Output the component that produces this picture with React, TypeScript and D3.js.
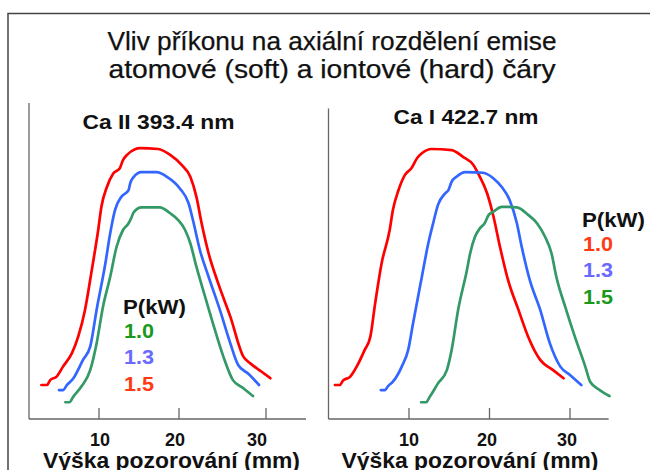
import React from "react";
import * as d3 from "d3";

// ---------- data ----------
const titleLines = [
  "Vliv příkonu na axiální rozdělení emise",
  "atomové (soft) a iontové (hard) čáry",
];
const xTicks = [10, 20, 30];
const xAxisTitle = "Výška pozorování (mm)";
const powers = ["1.0", "1.3", "1.5"];

// Ca II 393.4 nm  [height mm, relative intensity]
const caII_10: [number, number][] = [[5.8,6.2],[6.3,6.2],[6.8,8.3],[7.8,12.0],[8.9,18.1],[9.7,28.0],[10.5,41.6],[11.4,52.7],[12.2,63.8],[13.0,70.0],[13.7,72.5],[14.1,74.9],[14.3,76.4],[15.3,78.4],[17.6,78.4],[18.9,76.2],[19.9,73.7],[20.7,70.0],[21.3,65.1],[22.0,56.4],[23.0,45.3],[23.9,35.4],[25.1,23.1],[26.2,14.4],[27.4,11.4],[28.5,8.5]];
const caII_13: [number, number][] = [[5.0,10.7],[5.5,10.7],[6.0,12.6],[6.8,15.1],[8.0,21.9],[8.9,26.8],[9.7,40.4],[10.8,57.7],[11.4,68.8],[12.0,77.4],[12.8,82.3],[13.7,84.8],[13.9,87.3],[14.3,89.5],[15.3,91.4],[17.2,91.4],[18.5,89.7],[20.1,85.4],[21.1,79.9],[21.6,73.7],[22.4,62.6],[23.4,52.7],[24.7,40.4],[25.9,28.0],[26.8,20.0],[28.0,16.7],[29.2,12.6]];
const caII_15: [number, number][] = [[2.8,12.6],[3.5,12.6],[3.9,14.4],[4.7,15.7],[5.5,19.4],[6.6,24.3],[7.4,30.5],[8.25,40.4],[9.1,55.2],[9.9,70.0],[10.3,78.6],[11.0,86.0],[11.8,91.0],[12.6,92.9],[13.0,95.9],[13.5,97.8],[14.5,99.9],[15.1,100.3],[17.4,100.0],[18.9,97.8],[20.3,94.1],[21.3,89.7],[22.0,82.3],[22.6,72.5],[23.4,61.4],[24.5,50.3],[25.9,37.9],[27.4,23.1],[28.2,20.6],[29.5,17.5],[30.5,15.1]];

// Ca I 422.7 nm
const caI_10: [number, number][] = [[0.8,12.6],[1.4,12.6],[1.8,14.2],[2.7,15.7],[3.5,19.4],[4.5,25.6],[5.2,30.5],[5.8,42.9],[6.6,57.7],[7.6,70.0],[8.0,77.4],[8.7,84.8],[9.5,90.4],[10.3,92.9],[11.0,96.6],[11.6,98.4],[12.8,100.0],[15.3,99.6],[16.7,97.1],[18.0,94.1],[18.8,89.7],[19.7,83.6],[20.5,74.9],[21.3,63.8],[22.3,51.5],[23.6,40.4],[24.8,30.5],[26.3,21.9],[27.9,18.1],[29.2,15.1]];
const caI_13: [number, number][] = [[6.5,10.7],[7.0,10.7],[7.4,12.2],[8.0,13.8],[9.1,19.4],[9.9,25.6],[10.5,35.4],[11.6,52.7],[12.4,65.1],[13.0,72.5],[13.6,79.3],[14.5,83.6],[14.9,84.8],[15.3,87.9],[15.9,89.7],[17.0,91.4],[19.2,91.2],[20.5,89.1],[21.5,86.0],[22.5,81.1],[23.4,72.5],[24.0,63.8],[25.0,51.5],[26.3,40.4],[27.5,28.0],[28.8,19.4],[30.0,16.3],[31.4,12.6]];
const caI_15: [number, number][] = [[11.5,6.2],[12.1,6.2],[12.6,8.3],[13.6,13.2],[14.7,18.1],[15.3,25.6],[16.1,40.4],[17.2,55.2],[17.6,61.4],[18.2,67.5],[18.8,70.6],[19.4,72.5],[19.9,75.6],[20.5,76.8],[21.5,78.6],[23.4,78.4],[24.8,75.6],[25.9,72.5],[26.9,67.5],[27.7,61.4],[28.3,52.7],[29.4,41.6],[30.6,30.5],[31.9,19.4],[32.5,13.8],[33.7,10.7],[34.9,8.5]];

// ---------- styles ----------
const LINE = { red: "#ff0000", blue: "#3366ff", green: "#339966" };
const LEG = { red: "#ff3a14", blue: "#6a6aff", green: "#1a991a" };
const FONT = "'Liberation Sans', Arial, sans-serif";

const W = 650, H = 470;

const yScale = d3.scaleLinear().domain([0, 100]).range([419, 149]);

type Panel = {
  title: string;
  titleX: number; titleY: number; titleLen: number;
  axisTitleX: number;
  x: d3.ScaleLinear<number, number>;
  labelX: d3.ScaleLinear<number, number>;
  xExtent: [number, number];
  yTop: number;
  series: { data: [number, number][]; color: string }[];
  legend: { x: number; y: number; colors: string[] };
};

const panels: Panel[] = [
  {
    title: "Ca II 393.4 nm",
    titleX: 158.5, titleY: 129, titleLen: 152,
    axisTitleX: 171.5,
    x: d3.scaleLinear().domain([10, 20, 30]).range([99, 179, 266]),
    labelX: d3.scaleLinear().domain([10, 20, 30]).range([100, 175, 257]),
    xExtent: [1.25, 34.6],
    yTop: 117,
    series: [
      { data: caII_15, color: LINE.red },
      { data: caII_13, color: LINE.blue },
      { data: caII_10, color: LINE.green },
    ],
    legend: { x: 123, y: 314, colors: [LEG.green, LEG.blue, LEG.red] },
  },
  {
    title: "Ca I 422.7 nm",
    titleX: 466, titleY: 123.5, titleLen: 145,
    axisTitleX: 470,
    x: d3.scaleLinear().domain([0, 30]).range([328.5, 570]),
    labelX: d3.scaleLinear().domain([10, 20, 30]).range([409, 487, 567]),
    xExtent: [0, 34.8],
    yTop: 115,
    series: [
      { data: caI_10, color: LINE.red },
      { data: caI_13, color: LINE.blue },
      { data: caI_15, color: LINE.green },
    ],
    legend: { x: 582, y: 227, colors: [LEG.red, LEG.blue, LEG.green] },
  },
];

export default function App() {
  const axisColor = "#666";
  return (
    <svg
      width={W}
      height={H}
      viewBox={`0 0 ${W} ${H}`}
      style={{ position: "fixed", left: 0, top: 0, background: "#fff" }}
      fontFamily={FONT}
    >
      <rect x={0} y={0} width={W} height={H} fill="#fff" />
      {/* frame */}
      <path d={`M8,${H} V13.5 H${W}`} fill="none" stroke="#444" strokeWidth={1.5} />

      {/* title */}
      {titleLines.map((t, i) => (
        <text
          key={i}
          x={332}
          y={50 + i * 28}
          textAnchor="middle"
          fontSize={25}
          fill="#111"
          stroke="#111"
          strokeWidth={0.25}
          textLength={i === 0 ? 449 : 447}
          lengthAdjust="spacingAndGlyphs"
        >
          {t}
        </text>
      ))}

      {panels.map((p, pi) => {
        const line = d3
          .line<[number, number]>()
          .x((d) => p.x(d[0]))
          .y((d) => yScale(d[1]))
          .curve(d3.curveMonotoneX);
        const x0 = p.x(p.xExtent[0]);
        const x1 = p.x(p.xExtent[1]);
        const y0 = yScale(0);
        return (
          <g key={pi}>
            {/* axes */}
            <line x1={x0} x2={x0} y1={yScale(p.yTop)} y2={y0} stroke={axisColor} strokeWidth={1.3} />
            <line x1={x0} x2={x1} y1={y0} y2={y0} stroke={axisColor} strokeWidth={1.3} />
            {xTicks.map((t) => (
              <line key={t} x1={p.x(t)} x2={p.x(t)} y1={y0} y2={y0 - 11} stroke={axisColor} strokeWidth={1.3} />
            ))}
            {xTicks.map((t) => (
              <text key={"l" + t} x={p.labelX(t)} y={446} textAnchor="middle" fontSize={18} fontWeight="bold" fill="#111">
                {t}
              </text>
            ))}
            <text
              x={p.axisTitleX}
              y={468}
              textAnchor="middle"
              fontSize={21.5}
              fontWeight="bold"
              fill="#111"
              textLength={257}
              lengthAdjust="spacingAndGlyphs"
            >
              {xAxisTitle}
            </text>

            {/* curves */}
            {p.series.map((s, si) => (
              <path key={si} d={line(s.data) || ""} fill="none" stroke={s.color} strokeWidth={2.7} strokeLinejoin="round" strokeLinecap="round" />
            ))}

            {/* panel title */}
            <text
              x={p.titleX}
              y={p.titleY}
              textAnchor="middle"
              fontSize={21}
              fontWeight="bold"
              fill="#111"
              textLength={p.titleLen}
              lengthAdjust="spacingAndGlyphs"
            >
              {p.title}
            </text>

            {/* legend */}
            <text x={p.legend.x} y={p.legend.y} fontSize={20} fontWeight="bold" fill="#111" textLength={63} lengthAdjust="spacingAndGlyphs">
              P(kW)
            </text>
            {powers.map((pw, k) => (
              <text
                key={pw}
                x={p.legend.x + 1}
                y={p.legend.y + 23.5 + k * 26.5}
                fontSize={20}
                fontWeight="bold"
                fill={p.legend.colors[k]}
                textLength={30}
                lengthAdjust="spacingAndGlyphs"
              >
                {pw}
              </text>
            ))}
          </g>
        );
      })}
    </svg>
  );
}
